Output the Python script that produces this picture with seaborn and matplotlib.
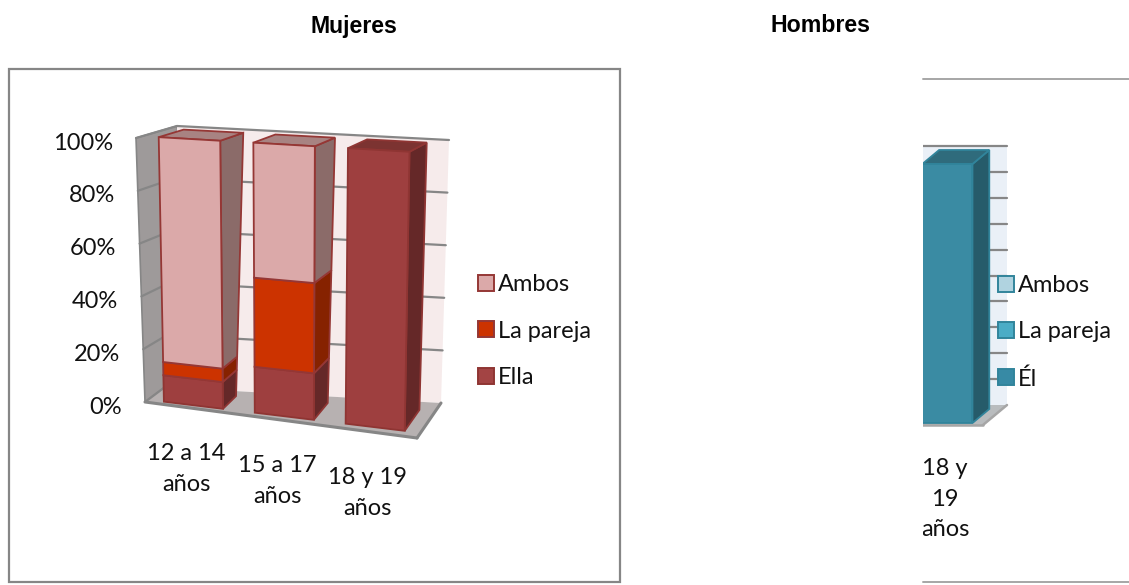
import matplotlib
matplotlib.use("Agg")
import matplotlib.pyplot as plt
import matplotlib.transforms as mtransforms
from matplotlib.patches import Patch, Polygon, Rectangle
from matplotlib.lines import Line2D
import numpy as np
import seaborn as sns

# Data
edades_m = ['12 a 14\naños', '15 a 17\naños', '18 y 19\naños']
ella = [10, 17, 100]
pareja_m = [5, 33, 0]
ambos_m = [85, 50, 0]
ticks_m = [0, 20, 40, 60, 80, 100]
tick_labels_m = ['0%', '20%', '40%', '60%', '80%', '100%']

edades_h = ['18 y\n19\naños']
el = [100]
pareja_h = [0]
ambos_h = [0]
ticks_h = [0, 10, 20, 30, 40, 50, 60, 70, 80, 90, 100]

W, H = 1129, 585
FS = 17
sns.set_theme(style='white')
plt.rcParams['font.family'] = ['Lato', 'DejaVu Sans']
fig = plt.figure(figsize=(W / 100, H / 100), dpi=100, facecolor='white')
GRIS = '#868686'
px = mtransforms.IdentityTransform()


class Caja:
    # maps (category, percent, depth) to display pixels inside the fake 3D box
    def __init__(self, xmin, xmax, esquinas):
        self.xmin, self.xmax = xmin, xmax
        self.e = {k: np.array(v, dtype=float) for k, v in esquinas.items()}

    def __call__(self, x, y, z):
        u = (np.asarray(x, dtype=float) - self.xmin) / (self.xmax - self.xmin)
        v = np.asarray(y, dtype=float) / 100
        z = np.asarray(z, dtype=float)
        e = self.e
        out = []
        for i in range(2):
            bajo_f = e['flb'][i] * (1 - u) + e['frb'][i] * u
            bajo_b = e['blb'][i] * (1 - u) + e['brb'][i] * u
            alto_f = e['flt'][i] * (1 - u) + e['frt'][i] * u
            alto_b = e['blt'][i] * (1 - u) + e['brt'][i] * u
            f = bajo_f * (1 - v) + alto_f * v
            b = bajo_b * (1 - v) + alto_b * v
            out.append(f * (1 - z) + b * z)
        return out[0], H - out[1]

    def pts(self, lista):
        return [tuple(float(c) for c in self(*p)) for p in lista]


class Frente(mtransforms.Transform):
    input_dims = 2
    output_dims = 2

    def __init__(self, caja, z):
        super().__init__()
        self.caja, self.z = caja, z

    def transform_non_affine(self, values):
        values = np.asarray(values)
        x, y = self.caja(values[:, 0], values[:, 1], self.z)
        return np.column_stack([x, y])


def poligono(ax, caja, lista, fc, ec='none', lw=0, zorder=1):
    ax.add_patch(Polygon(caja.pts(lista), closed=True, facecolor=fc, edgecolor=ec, linewidth=lw,
                         transform=px, zorder=zorder, clip_on=False))


def linea(ax, caja, a, b, color=GRIS, lw=1.6, zorder=2):
    p = caja.pts([a, b])
    ax.add_line(Line2D([p[0][0], p[1][0]], [p[0][1], p[1][1]], color=color, linewidth=lw,
                       transform=px, zorder=zorder, clip_on=False))


def dibuja_barras(ax, caja, categorias, series, estilos, ancho, z0, z1):
    ax.set_position([0, 0, 1, 1])
    base = np.zeros(len(categorias))
    for valores, est in zip(series, estilos):
        sns.barplot(x=categorias, y=valores, bottom=base, width=ancho, color=est['front'], saturation=1,
                    edgecolor=est['edge'], linewidth=1.3, ax=ax, errorbar=None)
        base = base + np.array(valores)
    n = len(categorias)
    for k, patch in enumerate(list(ax.patches)):
        s, i = divmod(k, n)
        est = estilos[s]
        x0, x1 = patch.get_x(), patch.get_x() + patch.get_width()
        y0, y1 = patch.get_y(), patch.get_y() + patch.get_height()
        if patch.get_height() == 0:
            patch.set_visible(False)
            continue
        zo = 5 + i + s * 0.1
        patch.set_transform(Frente(caja, z0))
        patch.set_zorder(zo + 0.05)
        patch.set_clip_on(False)
        poligono(ax, caja, [(x1, y0, z0), (x1, y0, z1), (x1, y1, z1), (x1, y1, z0)],
                 est['side'], est['edge'], 1.3, zo)
        if y1 >= 99.9:
            poligono(ax, caja, [(x0, y1, z0), (x1, y1, z0), (x1, y1, z1), (x0, y1, z1)],
                     est['top'], est['edge'], 1.3, zo)


def leyenda(ax, etiquetas, estilos, x, y):
    handles = [Patch(facecolor=e['legend'], edgecolor=e['edge'], linewidth=1.4, label=t)
               for t, e in zip(etiquetas, estilos)]
    leg = ax.legend(handles=handles, loc='upper left', bbox_to_anchor=(x / W, 1 - y / H),
                    bbox_transform=fig.transFigure, frameon=False, fontsize=FS, handlelength=0.66,
                    handleheight=0.66, handletextpad=0.17, labelspacing=1.08, borderpad=0, borderaxespad=0)
    leg.set_zorder(60)
    for t in leg.get_texts():
        t.set_color('#111111')


# ---- Mujeres ----
fig.text(354 / W, 1 - 26 / H, 'Mujeres', family='Liberation Sans', fontweight='bold', fontsize=16.7,
         ha='center', va='center', color='black')
fig.add_artist(Rectangle((9 / W, 1 - 582 / H), 611 / W, 513 / H, transform=fig.transFigure,
                         facecolor='white', edgecolor=GRIS, linewidth=1.6, zorder=-1))

ax_m = fig.add_axes([0, 0, 1, 1])
ax_m.patch.set_alpha(0)
caja_m = Caja(-0.5, 2.5, dict(flb=(145, 402), frb=(417, 438), blb=(165, 387), brb=(441, 403),
                              flt=(136, 138), frt=(422, 155), blt=(177, 126), brt=(449, 140)))
est_m = [
    dict(front='#9E3F3F', side='#652828', top='#7C3331', edge='#8F3533', legend='#A34444'),
    dict(front='#CC3300', side='#862200', top='#862200', edge='#953735', legend='#CC3300'),
    dict(front='#DBA9A9', side='#8B6B69', top='#A88382', edge='#953735', legend='#DBA9A9'),
]
dibuja_barras(ax_m, caja_m, edades_m, [ella, pareja_m, ambos_m], est_m, 0.65, 0.15, 0.77)
ax_m.axis('off')

poligono(ax_m, caja_m, [(-0.5, 0, 0), (-0.5, 100, 0), (-0.5, 100, 1), (-0.5, 0, 1)], '#9E9A9A', GRIS, 1.2)
poligono(ax_m, caja_m, [(-0.5, 0, 1), (-0.5, 100, 1), (2.5, 100, 1), (2.5, 0, 1)], '#F6EBEB')
poligono(ax_m, caja_m, [(-0.5, 0, 0), (2.5, 0, 0), (2.5, 0, 1), (-0.5, 0, 1)], '#B7B1B1')
linea(ax_m, caja_m, (-0.5, 0, 0), (2.5, 0, 0), lw=2.2, zorder=3)
linea(ax_m, caja_m, (2.5, 0, 0), (2.5, 0, 1), lw=2.2, zorder=3)
for t, etiqueta in zip(ticks_m, tick_labels_m):
    linea(ax_m, caja_m, (-0.5, t, 0), (-0.5, t, 1))
    if t > 0:
        linea(ax_m, caja_m, (-0.5, t, 1), (2.5, t, 1))
    tx, ty = caja_m(-0.5, t, 0)
    ax_m.text(float(tx) - 23, float(ty) - 5, etiqueta, transform=px, ha='right', va='center', fontsize=FS,
              color='#111111', zorder=10)
for i, cat in enumerate(edades_m):
    tx, ty = caja_m(i, 0, 0)
    ax_m.text(float(tx) - 4, float(ty) - 61, cat, transform=px, ha='center', va='center', fontsize=FS,
              linespacing=1.55, color='#111111', zorder=10)
leyenda(ax_m, ['Ambos', 'La pareja', 'Ella'], est_m[::-1], 478, 274)

# ---- Hombres ----
fig.text(820 / W, 1 - 26 / H, 'Hombres', family='Liberation Sans', fontweight='bold', fontsize=16.7,
         ha='center', va='center', color='black')
ax_h = fig.add_axes([0, 0, 1, 1])
ax_h.patch.set_alpha(0)
xmin_h, xmax_h = -1.0, 0.5
caja_h = Caja(xmin_h, xmax_h, dict(flb=(869, 425), frb=(983, 425), blb=(893, 405), brb=(1007, 405),
                                   flt=(869, 166), frt=(983, 166), blt=(893, 146), brt=(1007, 146)))
est_h = [
    dict(front='#3A8BA3', side='#265B6A', top='#2F6B7C', edge='#31849B', legend='#378AA5'),
    dict(front='#4BACC6', side='#2F7080', top='#2F7080', edge='#31849B', legend='#4BACC6'),
    dict(front='#B0D3E0', side='#7A99A3', top='#7A99A3', edge='#31849B', legend='#B0D3E0'),
]
dibuja_barras(ax_h, caja_h, edades_h, [el, pareja_h, ambos_h], est_h, 0.66, 0.1, 0.8)
ax_h.axis('off')

poligono(ax_h, caja_h, [(xmin_h, 0, 1), (xmin_h, 100, 1), (xmax_h, 100, 1), (xmax_h, 0, 1)], '#EAF0F7')
poligono(ax_h, caja_h, [(xmin_h, 0, 0), (xmax_h, 0, 0), (xmax_h, 0, 1), (xmin_h, 0, 1)], '#B9BCBE')
linea(ax_h, caja_h, (xmin_h, 0, 0), (xmax_h, 0, 0), color='#A6A6A6', lw=1.8, zorder=3)
linea(ax_h, caja_h, (xmax_h, 0, 0), (xmax_h, 0, 1), color='#A6A6A6', lw=1.8, zorder=3)
for t in ticks_h:
    if t > 0:
        linea(ax_h, caja_h, (xmin_h, t, 1), (xmax_h, t, 1))
tx, ty = caja_h(0, 0, 0)
ax_h.text(float(tx), float(ty) - 74, edades_h[0], transform=px, ha='center', va='center', fontsize=FS,
          linespacing=1.55, color='#111111', zorder=10)

# the second chart is cropped on its left side in the source
ax_h.add_patch(Rectangle((630, 0), 293, H - 79.5, transform=px, facecolor='white', edgecolor='none',
                         zorder=50, clip_on=False))
for yy in [79, 582]:
    ax_h.add_line(Line2D([923, W], [H - yy, H - yy], color='#A6A6A6', linewidth=1.4, transform=px, zorder=51,
                         clip_on=False))
leyenda(ax_h, ['Ambos', 'La pareja', 'Él'], est_h[::-1], 998, 275)

fig.savefig('out.png', dpi=100, facecolor='white')
